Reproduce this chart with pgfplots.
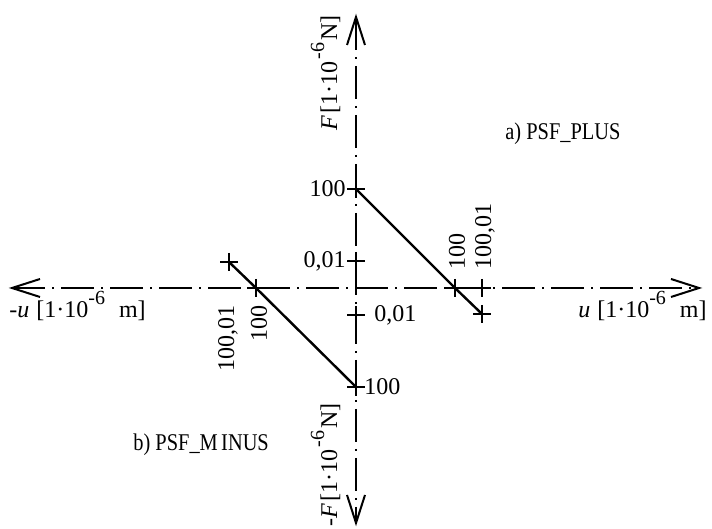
\documentclass[border=0pt]{standalone}
\usepackage{fontspec}
\setmainfont{Liberation Serif}
\usepackage{pgfplots}
\pgfplotsset{compat=1.18}
\newcommand{\supr}[1]{\raisebox{6.5pt}{\fontsize{10}{10}\selectfont #1}}
\begin{document}
\begin{tikzpicture}[font=\fontsize{12}{14}\selectfont]
\begin{axis}[width=356pt,height=264.5pt,scale only axis,
  xmin=0,xmax=712,ymin=0,ymax=529,hide axis,clip=false]
% axes (dash-dot)
\draw[line width=0.9pt,dash pattern=on 16.5pt off 3.5pt on 1pt off 3.5pt] (axis cs:12,241) -- (axis cs:699,241);
\draw[line width=0.9pt,dash pattern=on 16.5pt off 3.5pt on 1pt off 3.5pt] (axis cs:356,512) -- (axis cs:356,6);
% arrow heads (open V)
\draw[line width=1pt] (axis cs:671,250) -- (axis cs:699,241) -- (axis cs:671,232);
\draw[line width=1pt] (axis cs:40,250) -- (axis cs:12,241) -- (axis cs:40,232);
\draw[line width=1pt] (axis cs:347,484) -- (axis cs:356,512) -- (axis cs:365,484);
\draw[line width=1pt] (axis cs:347,34) -- (axis cs:356,6) -- (axis cs:365,34);
% a) PSF_PLUS
\addplot[black,line width=1.2pt,mark=+,mark size=4.5pt,mark options={solid,line width=0.9pt}]
  coordinates {(356,340) (455,241) (482,215)};
% b) PSF_MINUS
\addplot[black,line width=1.2pt,mark=+,mark size=4.5pt,mark options={solid,line width=0.9pt}]
  coordinates {(229,267) (256,241) (356,142)};
% extra ticks
\addplot[black,only marks,mark=+,mark size=4.5pt,mark options={line width=0.9pt}]
  coordinates {(482,241) (356,268) (356,214)};
% tick labels
\node[anchor=east,inner sep=0pt] at (axis cs:346,340) {100};
\node[anchor=east,inner sep=0pt] at (axis cs:346,268) {0,01};
\node[anchor=west,inner sep=0pt] at (axis cs:374,214) {0,01};
\node[anchor=west,inner sep=0pt] at (axis cs:364,142) {100};
\node[rotate=90,anchor=west,inner sep=0pt] at (axis cs:457,259) {100};
\node[rotate=90,anchor=west,inner sep=0pt] at (axis cs:485,259) {100,01};
\node[rotate=90,anchor=east,inner sep=0pt] at (axis cs:259,224) {100};
\node[rotate=90,anchor=east,inner sep=0pt] at (axis cs:228,224) {100,01};
% axis labels
\node[anchor=base east,inner sep=0pt] at (axis cs:707,211) {\textit{u}\hspace{3.5pt}[1·10\supr{-6}\hspace{7pt}m]};
\node[anchor=base west,inner sep=0pt] at (axis cs:9,211) {-\textit{u}\hspace{3.5pt}[1·10\supr{-6}\hspace{7pt}m]};
\node[rotate=90,anchor=base east,inner sep=0pt] at (axis cs:337,514) {\textit{F}\hspace{1pt}[1·10\hspace{1pt}\supr{-6}\hspace{1pt}N]};
\node[rotate=90,anchor=base east,inner sep=0pt] at (axis cs:337,126) {-\textit{F}\hspace{1pt}[1·10\hspace{1pt}\supr{-6}\hspace{1pt}N]};
% series names
\node[anchor=base west,inner sep=0pt] at (axis cs:505,389) {\scalebox{0.85}[1]{a) PSF\_PLUS}};
\node[anchor=base west,inner sep=0pt] at (axis cs:133,78) {\scalebox{0.85}[1]{b) PSF\_M\kern2pt INUS}};
\end{axis}
\pgfresetboundingbox
\useasboundingbox (current axis.south west) rectangle (current axis.north east);
\end{tikzpicture}
\end{document}
